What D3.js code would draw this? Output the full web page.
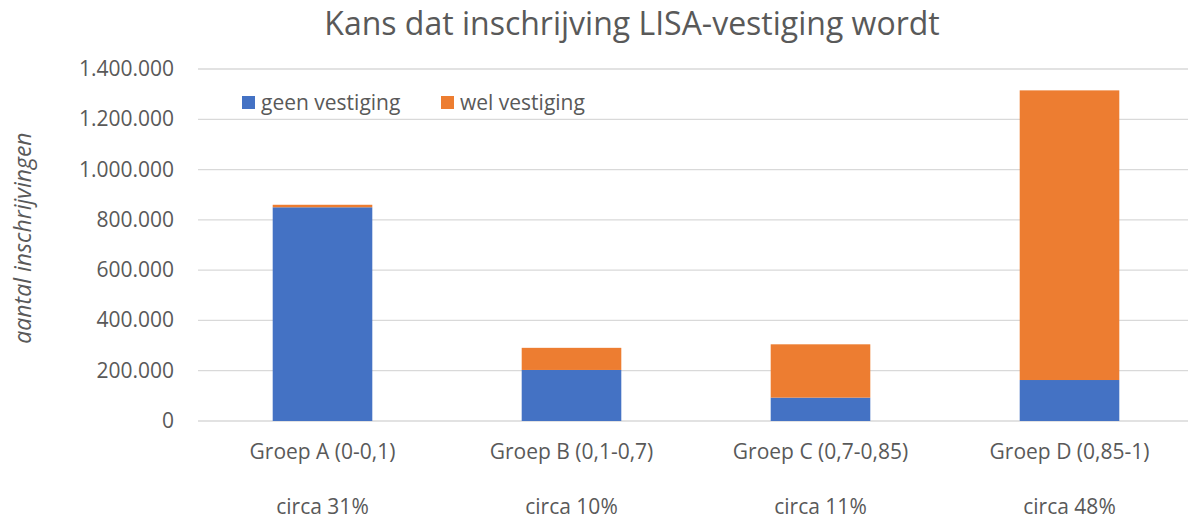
<!DOCTYPE html>
<html>
<head>
<meta charset="utf-8">
<script src="https://cdn.jsdelivr.net/npm/d3@7"></script>
<style>
  body { margin: 0; background: #fff; }
  text { font-family: "Open Sans", sans-serif; fill: #595959; }
</style>
</head>
<body>
<svg id="chart" width="1188" height="520"></svg>
<script>
// data
const groups = ["Groep A (0-0,1)", "Groep B (0,1-0,7)", "Groep C (0,7-0,85)", "Groep D (0,85-1)"];
const shares = ["circa 31%", "circa 10%", "circa 11%", "circa 48%"];
const geenVestiging = [850000, 203000, 93000, 163000];
const welVestiging = [10000, 88000, 212000, 1152000];
const seriesNames = ["geen vestiging", "wel vestiging"];
const yTicks = [0, 200000, 400000, 600000, 800000, 1000000, 1200000, 1400000];

const colors = ["#4472C4", "#ED7D31"];
const svg = d3.select("#chart");

const x = d3.scaleBand().domain(groups).range([198, 1194]).paddingInner(0.6).paddingOuter(0.3);
const y = d3.scaleLinear().domain([0, 1400000]).range([421, 69]);

// dutch number format: 1.400.000
const fmt = d => d3.format(",")(d).replace(/,/g, ".");

// gridlines
svg.append("g").selectAll("line")
  .data(yTicks)
  .enter().append("line")
  .attr("x1", 198).attr("x2", 1194)
  .attr("y1", d => y(d)).attr("y2", d => y(d))
  .attr("stroke", "#d9d9d9").attr("stroke-width", 1.3);

// y tick labels
svg.append("g").selectAll("text")
  .data(yTicks)
  .enter().append("text")
  .attr("x", 174)
  .attr("y", d => y(d) + 7)
  .attr("text-anchor", "end")
  .style("font-size", "21px")
  .text(fmt);

// stacked bars
const table = groups.map((g, i) => ({ group: g, geen: geenVestiging[i], wel: welVestiging[i] }));
const stack = d3.stack().keys(["geen", "wel"])(table);

svg.append("g").selectAll("g")
  .data(stack)
  .enter().append("g")
  .attr("fill", (d, i) => colors[i])
  .selectAll("rect")
  .data(d => d)
  .enter().append("rect")
  .attr("x", d => x(d.data.group))
  .attr("width", x.bandwidth())
  .attr("y", d => y(d[1]))
  .attr("height", d => y(d[0]) - y(d[1]));

// category labels
svg.append("g").selectAll("text")
  .data(groups)
  .enter().append("text")
  .attr("x", d => x(d) + x.bandwidth() / 2)
  .attr("y", 459)
  .attr("text-anchor", "middle")
  .style("font-size", "21px")
  .text(d => d);

svg.append("g").selectAll("text")
  .data(shares)
  .enter().append("text")
  .attr("x", (d, i) => x(groups[i]) + x.bandwidth() / 2)
  .attr("y", 514)
  .attr("text-anchor", "middle")
  .style("font-size", "21px")
  .text(d => d);

// title
svg.append("text")
  .attr("x", 632).attr("y", 35)
  .attr("text-anchor", "middle")
  .style("font-size", "32px")
  .text("Kans dat inschrijving LISA-vestiging wordt");

// y axis title
svg.append("text")
  .attr("transform", "translate(31,238) rotate(-90)")
  .attr("text-anchor", "middle")
  .style("font-size", "23px")
  .style("font-style", "italic")
  .text("aantal inschrijvingen");

// legend
const legendX = [242, 441];
const legend = svg.append("g").selectAll("g")
  .data(seriesNames)
  .enter().append("g")
  .attr("transform", (d, i) => `translate(${legendX[i]},96)`);
legend.append("rect")
  .attr("width", 13).attr("height", 13)
  .attr("fill", (d, i) => colors[i]);
legend.append("text")
  .attr("x", 19).attr("y", 14)
  .style("font-size", "21px")
  .text(d => d);
</script>
</body>
</html>
